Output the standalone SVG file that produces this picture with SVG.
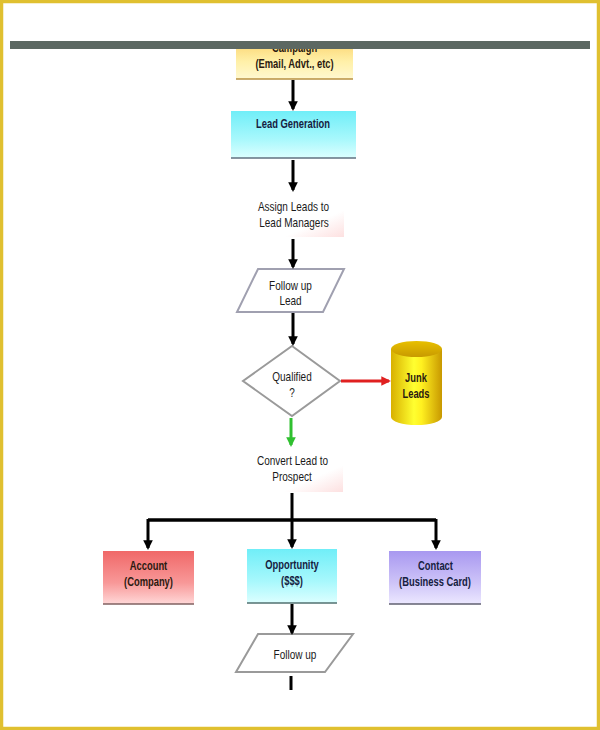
<svg xmlns="http://www.w3.org/2000/svg" width="600" height="730" viewBox="0 0 600 730">
<defs>
<style>
.t{font-family:"Liberation Sans",Arial,sans-serif;font-size:13px;text-anchor:middle;fill:#1a1a1a}
.b{font-weight:bold;font-size:12.5px;fill:#2a1a10}
.bn{font-weight:bold;font-size:12.5px;fill:#152040}
.c{stroke:#000;stroke-width:3;fill:none;marker-end:url(#ah)}
.plain{fill:#fff;stroke:#9a9a9a;stroke-width:2}
</style>
<marker id="ah" viewBox="0 0 10 10" refX="8" refY="5" markerWidth="3.2" markerHeight="3.2" orient="auto" markerUnits="strokeWidth"><path d="M0,0 L10,5 L0,10 z" fill="#000"/></marker>
<marker id="ahr" viewBox="0 0 10 10" refX="8" refY="5" markerWidth="3.2" markerHeight="3.2" orient="auto" markerUnits="strokeWidth"><path d="M0,0 L10,5 L0,10 z" fill="#e02020"/></marker>
<marker id="ahg" viewBox="0 0 10 10" refX="8" refY="5" markerWidth="3.2" markerHeight="3.2" orient="auto" markerUnits="strokeWidth"><path d="M0,0 L10,5 L0,10 z" fill="#30c030"/></marker>
<linearGradient id="gy" x1="0" y1="0" x2="0" y2="1"><stop offset="0" stop-color="#fcd878"/><stop offset="0.5" stop-color="#fff0a8"/><stop offset="1" stop-color="#fff8d0"/></linearGradient>
<linearGradient id="gc" x1="0" y1="0" x2="0" y2="1"><stop offset="0" stop-color="#70eef8"/><stop offset="0.6" stop-color="#a8f8fc"/><stop offset="1" stop-color="#dcffff"/></linearGradient>
<linearGradient id="gr" x1="0" y1="0" x2="0" y2="1"><stop offset="0" stop-color="#f06868"/><stop offset="0.6" stop-color="#f89898"/><stop offset="1" stop-color="#ffd8d8"/></linearGradient>
<linearGradient id="gp" x1="0" y1="0" x2="0" y2="1"><stop offset="0" stop-color="#a898f0"/><stop offset="0.6" stop-color="#cec4f8"/><stop offset="1" stop-color="#ece8ff"/></linearGradient>
<linearGradient id="gw" x1="0" y1="0" x2="1" y2="1"><stop offset="0" stop-color="#fff"/><stop offset="0.7" stop-color="#fff"/><stop offset="1" stop-color="#fde0e0"/></linearGradient>
<linearGradient id="gcyl" x1="0" y1="0" x2="1" y2="0"><stop offset="0" stop-color="#d8b000"/><stop offset="0.45" stop-color="#ffff30"/><stop offset="0.6" stop-color="#fff020"/><stop offset="1" stop-color="#c89800"/></linearGradient>
<linearGradient id="gcylt" x1="0" y1="0" x2="0" y2="1"><stop offset="0" stop-color="#e8c000"/><stop offset="1" stop-color="#c89a00"/></linearGradient>
</defs>
<rect x="0" y="0" width="600" height="730" fill="#fff"/>
<rect x="1.5" y="1.5" width="597" height="727" fill="none" stroke="#e0c030" stroke-width="3.5"/>

<g id="campaign">
<rect x="236" y="44" width="117" height="35" fill="url(#gy)"/>
<line x1="236" y1="79" x2="353" y2="79" stroke="#b89040" stroke-width="1.5"/>
<text class="t b" transform="translate(294.5 52) scale(0.75 1)">Campaign</text>
<text class="t b" transform="translate(294.5 68) scale(0.75 1)">(Email, Advt., etc)</text>
</g>
<rect id="topbar" x="10" y="41" width="580" height="8" fill="#5c6862"/>

<g id="leadgen">
<rect x="231" y="111" width="125" height="47" fill="url(#gc)"/>
<line x1="231" y1="158" x2="356" y2="158" stroke="#607080" stroke-width="1.5"/>
<text class="t bn" transform="translate(293 128) scale(0.75 1)">Lead Generation</text>
</g>

<g id="assign">
<rect x="243" y="192" width="101" height="45" fill="url(#gw)"/>
<text class="t" transform="translate(293.5 211) scale(0.77 1)">Assign Leads to</text>
<text class="t" transform="translate(294 227) scale(0.77 1)">Lead Managers</text>
</g>

<g id="followup1">
<polygon class="plain" points="258,269 344,269 323,312 237,312" style="stroke:#a0a0b0"/>
<text class="t" transform="translate(290.5 290) scale(0.77 1)">Follow up</text>
<text class="t" transform="translate(290.5 305) scale(0.77 1)">Lead</text>
</g>

<g id="qualified">
<polygon class="plain" points="292,346 340,381 292,416 243,381"/>
<text class="t" transform="translate(292 381) scale(0.77 1)">Qualified</text>
<text class="t" transform="translate(292 397) scale(0.77 1)">?</text>
</g>

<g id="junk">
<path d="M391,349 L391,417 A25.5,8 0 0 0 442,417 L442,349 Z" fill="url(#gcyl)"/>
<ellipse cx="416.5" cy="349" rx="25.5" ry="8" fill="url(#gcylt)"/>
<text class="t b" transform="translate(416 382) scale(0.75 1)">Junk</text>
<text class="t b" transform="translate(416 398) scale(0.75 1)">Leads</text>
</g>

<g id="convert">
<rect x="242" y="447" width="101" height="45" fill="url(#gw)"/>
<text class="t" transform="translate(292.5 465) scale(0.77 1)">Convert Lead to</text>
<text class="t" transform="translate(292 481) scale(0.77 1)">Prospect</text>
</g>

<g id="account">
<rect x="103" y="551" width="91" height="53" fill="url(#gr)"/>
<line x1="103" y1="604" x2="194" y2="604" stroke="#806060" stroke-width="1.5"/>
<text class="t b" transform="translate(148.5 570) scale(0.75 1)">Account</text>
<text class="t b" transform="translate(148.5 586) scale(0.75 1)">(Company)</text>
</g>

<g id="opportunity">
<rect x="247" y="549" width="90" height="54" fill="url(#gc)"/>
<line x1="247" y1="603" x2="337" y2="603" stroke="#507070" stroke-width="1.5"/>
<text class="t bn" transform="translate(292 569) scale(0.75 1)">Opportunity</text>
<text class="t bn" transform="translate(292 585) scale(0.75 1)">($$$)</text>
</g>

<g id="contact">
<rect x="389" y="551" width="92" height="53" fill="url(#gp)"/>
<line x1="389" y1="604" x2="481" y2="604" stroke="#606070" stroke-width="1.5"/>
<text class="t bn" transform="translate(435.5 570) scale(0.75 1)">Contact</text>
<text class="t bn" transform="translate(435 586) scale(0.75 1)">(Business Card)</text>
</g>

<g id="followup2">
<polygon class="plain" points="258,634 353,634 325,672 236,672"/>
<text class="t" transform="translate(295 659) scale(0.77 1)">Follow up</text>
</g>

<g id="connectors">
<line class="c" x1="293" y1="80" x2="293" y2="109"/>
<line class="c" x1="293" y1="160" x2="293" y2="190"/>
<line class="c" x1="293" y1="239" x2="293" y2="267"/>
<line class="c" x1="293" y1="313" x2="293" y2="344"/>
<line x1="341" y1="381" x2="389" y2="381" stroke="#e02020" stroke-width="3" marker-end="url(#ahr)"/>
<line x1="291" y1="418" x2="291" y2="445" stroke="#30c030" stroke-width="3" marker-end="url(#ahg)"/>
<line x1="292" y1="493" x2="292" y2="520" stroke="#000" stroke-width="3"/>
<line x1="148" y1="520" x2="436" y2="520" stroke="#000" stroke-width="3.5"/>
<line class="c" x1="148" y1="519" x2="148" y2="548"/>
<line class="c" x1="292" y1="519" x2="292" y2="547"/>
<line class="c" x1="436" y1="519" x2="436" y2="548"/>
<line class="c" x1="292" y1="604" x2="292" y2="633"/>
<line x1="291" y1="676" x2="291" y2="690" stroke="#000" stroke-width="3"/>
</g>
</svg>
